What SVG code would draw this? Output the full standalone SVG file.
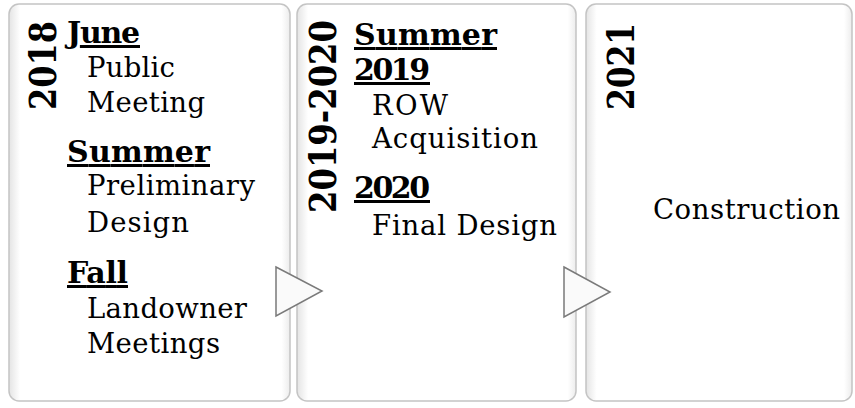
<svg xmlns="http://www.w3.org/2000/svg" width="855" height="408" viewBox="0 0 855 408">
<defs>
<linearGradient id="bev" x1="0" y1="0" x2="1" y2="0">
<stop offset="0" stop-color="#e4e4e4"/>
<stop offset="0.04" stop-color="#ffffff"/>
<stop offset="0.97" stop-color="#ffffff"/>
<stop offset="1" stop-color="#ececec"/>
</linearGradient>
</defs>
<style>
.box{fill:url(#bev);stroke:#c4c4c4;stroke-width:1.5}
.yr{font-family:"DejaVu Serif",serif;font-weight:900;font-size:37px;fill:#000}
.hd{font-family:"DejaVu Serif",serif;font-weight:bold;font-size:30px;fill:#000;text-decoration:underline}
.bd{font-family:"DejaVu Serif",serif;font-size:27.5px;fill:#000}
.arr{fill:#fafafa;stroke:#7a7a7a;stroke-width:1.5;stroke-linejoin:miter}
</style>
<rect width="855" height="408" fill="#ffffff"/>
<g id="node-2018">
<rect class="box" x="9" y="4" width="281" height="397" rx="10"/>
<text class="yr" transform="translate(56,110) rotate(-90) scale(0.86,1)" textLength="103.5" lengthAdjust="spacingAndGlyphs">2018</text>
<text class="hd" x="67" y="43" textLength="73">June</text>
<text class="bd" x="87" y="77" textLength="88">Public</text>
<text class="bd" x="87" y="112" textLength="118">Meeting</text>
<text class="hd" x="67" y="162" textLength="143">Summer</text>
<text class="bd" x="87" y="195" textLength="168">Preliminary</text>
<text class="bd" x="87" y="232" textLength="102">Design</text>
<text class="hd" x="67" y="283" textLength="61">Fall</text>
<text class="bd" x="87" y="318" textLength="160">Landowner</text>
<text class="bd" x="87" y="353" textLength="133">Meetings</text>
</g>
<g id="node-2019-2020">
<rect class="box" x="297" y="4" width="279" height="397" rx="10"/>
<text class="yr" transform="translate(336,213) rotate(-90) scale(0.86,1)" textLength="224.4" lengthAdjust="spacingAndGlyphs">2019-2020</text>
<text class="hd" x="354" y="45" textLength="143">Summer</text>
<text class="hd" x="354" y="80" textLength="76">2019</text>
<text class="bd" x="372" y="115" textLength="76">ROW</text>
<text class="bd" x="372" y="148" textLength="166">Acquisition</text>
<text class="hd" x="354" y="198" textLength="76">2020</text>
<text class="bd" x="372" y="235" textLength="185">Final Design</text>
</g>
<g id="node-2021">
<rect class="box" x="586" y="4" width="266" height="397" rx="10"/>
<text class="yr" transform="translate(634,110) rotate(-90) scale(0.86,1)" textLength="101.2" lengthAdjust="spacingAndGlyphs">2021</text>
<text class="bd" x="653" y="219" textLength="187">Construction</text>
</g>
<g id="connectors">
<polygon class="arr" points="276,267 322,291 276,316"/>
<polygon class="arr" points="564,267 610,292 564,317"/>
</g>
</svg>
